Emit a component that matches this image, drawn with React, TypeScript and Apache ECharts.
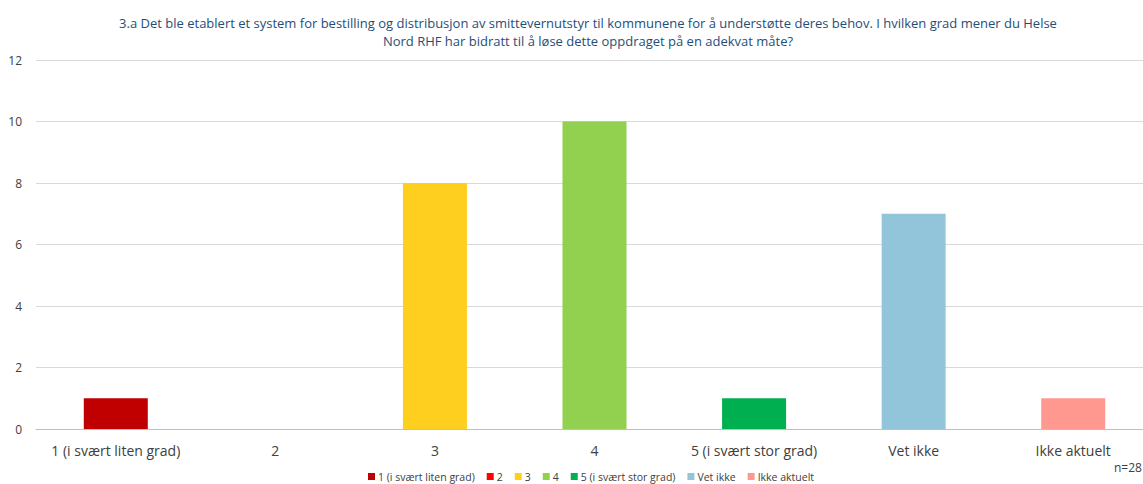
import React, { useEffect, useRef } from "react";
import * as echarts from "echarts";

const categories = [
  "1 (i svært liten grad)",
  "2",
  "3",
  "4",
  "5 (i svært stor grad)",
  "Vet ikke",
  "Ikke aktuelt",
];
const counts = [1, 0, 8, 10, 1, 7, 1];
const colors = ["#C00000", "#FF0000", "#FFCF1F", "#92D050", "#00B050", "#92C5DA", "#FF9990"];
const titleLines = [
  "3.a Det ble etablert et system for bestilling og distribusjon av smittevernutstyr til kommunene for å understøtte deres behov. I hvilken grad mener du Helse",
  "Nord RHF har bidratt til å løse dette oppdraget på en adekvat måte?",
];
const yTicks = { min: 0, max: 12, interval: 2 };
const sampleNote = "n=28";

const FONT = "'Open Sans', 'Noto Sans', sans-serif";

export default function App() {
  const ref = useRef<HTMLDivElement>(null);

  useEffect(() => {
    if (!ref.current) return;
    const chart = echarts.init(ref.current, undefined, { renderer: "svg" });

    // One series per category so each gets its own legend entry; stacking keeps bars centred.
    const series = categories.map((name, i) => ({
      name,
      type: "bar" as const,
      stack: "all",
      barWidth: 64,
      itemStyle: { color: colors[i] },
      data: categories.map((_, j) => (j === i ? counts[i] : null)),
    }));

    chart.setOption({
      animation: false,
      textStyle: { fontFamily: FONT },
      title: {
        text: titleLines.join("\n"),
        left: 583,
        top: 9,
        textAlign: "center",
        textStyle: {
          fontFamily: FONT,
          fontSize: 13,
          fontWeight: "normal",
          color: "#1F4E79",
          lineHeight: 18,
        },
      },
      legend: {
        bottom: -3,
        left: 363,
        itemWidth: 7,
        itemHeight: 7,
        itemGap: 12,
        icon: "rect",
        textStyle: { fontFamily: FONT, fontSize: 10.5, color: "#404040", padding: [0, 0, 0, -2] },
        data: categories,
      },
      // The plot area runs slightly past the visible frame on the right.
      grid: { left: 36, right: 0, top: 60, bottom: 55, containLabel: false },
      xAxis: {
        type: "category",
        data: categories,
        axisLine: { lineStyle: { color: "#BFBFBF" } },
        axisTick: { show: false },
        axisLabel: { interval: 0, fontFamily: FONT, fontSize: 14, color: "#404040", margin: 14 },
      },
      yAxis: {
        type: "value",
        min: yTicks.min,
        max: yTicks.max,
        interval: yTicks.interval,
        axisLine: { show: false },
        axisTick: { show: false },
        splitLine: { lineStyle: { color: "#D9D9D9" } },
        axisLabel: { fontFamily: FONT, fontSize: 12, color: "#404040", margin: 14 },
      },
      graphic: [
        {
          type: "text",
          left: 1114,
          top: 461,
          style: { text: sampleNote, fontFamily: FONT, fontSize: 12, fill: "#404040" },
        },
      ],
      series,
    });

    return () => chart.dispose();
  }, []);

  return (
    <div
      style={{
        position: "absolute",
        left: 0,
        top: 0,
        width: 1143,
        height: 484,
        overflow: "hidden",
        background: "#fff",
      }}
    >
      <div ref={ref} style={{ width: 1153, height: 484 }} />
    </div>
  );
}
